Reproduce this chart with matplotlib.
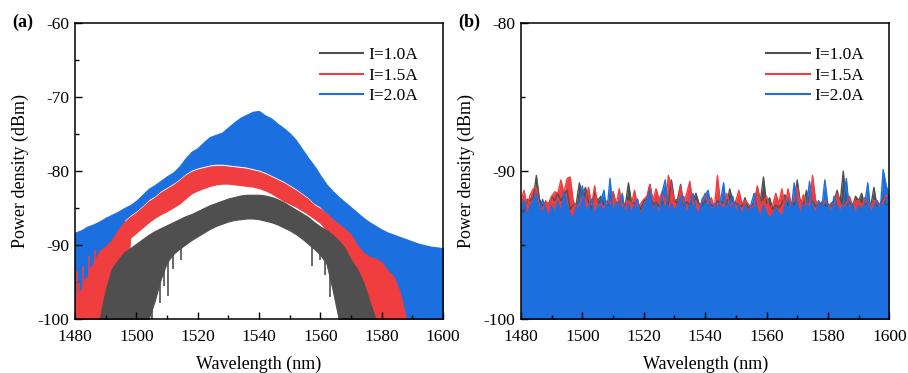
import numpy as np
import matplotlib
matplotlib.use("Agg")
import matplotlib.pyplot as plt
from matplotlib.ticker import MultipleLocator
from matplotlib.lines import Line2D

plt.rcParams['font.family'] = ['Liberation Serif', 'DejaVu Serif']
plt.rcParams['axes.unicode_minus'] = False

# ---------------- data: panel (a) (envelopes of the noisy spectra, 2 nm step) -------------
wl_a = np.arange(1480, 1601, 2)

blue_top_a = [-88.3, -88.0, -87.5, -87.2, -86.8, -86.3, -85.9, -85.5, -85.0, -84.6,
              -84.0, -83.2, -82.4, -81.9, -81.3, -80.7, -80.2, -79.4, -78.3, -77.4,
              -76.9, -76.1, -75.4, -75.1, -74.8, -74.1, -73.4, -72.8, -72.4, -72.0,
              -71.9, -72.5, -72.9, -73.6, -74.2, -74.9, -75.8, -77.0, -78.2, -79.3,
              -80.6, -81.8, -82.7, -83.5, -84.2, -84.9, -85.6, -86.3, -86.9, -87.4,
              -87.9, -88.3, -88.6, -88.9, -89.2, -89.5, -89.8, -90.0, -90.2, -90.3,
              -90.4]

red_top_a = [-97.0, -96.0, -94.2, -92.4, -90.8, -90.2, -89.3, -88.0, -86.9, -86.2,
             -85.6, -84.9, -84.1, -83.6, -82.9, -82.4, -81.9, -81.3, -80.6, -80.1,
             -79.8, -79.6, -79.4, -79.3, -79.3, -79.4, -79.5, -79.6, -79.7, -79.9,
             -80.1, -80.4, -80.8, -81.2, -81.6, -82.1, -82.6, -83.2, -83.8, -84.6,
             -85.1, -85.7, -86.5, -87.2, -87.8, -88.6, -90.0, -91.0, -91.6, -91.8,
             -92.3, -93.5, -94.3, -96.5, -100.0, np.nan, np.nan, np.nan, np.nan, np.nan,
             np.nan]

red_bot_a = [-100, -100, -100, -100, -100, -100, -100, -100, -100, -89.0,
             -88.3, -87.6, -86.9, -86.3, -85.8, -85.4, -84.9, -84.4, -83.7, -83.0,
             -82.6, -82.3, -82.0, -81.8, -81.7, -81.7, -81.8, -81.9, -82.0, -82.1,
             -82.3, -82.6, -83.0, -83.5, -84.0, -84.4, -84.8, -85.3, -85.8, -86.4,
             -87.0, -88.0, -88.6, -89.4, -90.4, -92.0, -93.2, -95.0, -97.5, -100,
             -100, -100, -100, -100, -100, np.nan, np.nan, np.nan, np.nan, np.nan,
             np.nan]

# isolated spikes of the 1.5 A trace at the short-wavelength edge
red_spike_wl = [1480.5, 1481.4, 1482.6, 1483.4, 1484.6, 1485.3, 1486.4]
red_spike_val = [-93.5, -95.0, -92.8, -94.5, -91.5, -93.0, -90.6]

black_top_a = [np.nan, np.nan, np.nan, np.nan, -100.0, -96.0, -93.2, -92.0, -91.0, -90.4,
               -89.8, -89.2, -88.6, -88.1, -87.7, -87.3, -86.9, -86.5, -86.1, -85.8,
               -85.4, -85.0, -84.6, -84.3, -84.0, -83.7, -83.5, -83.3, -83.2, -83.2,
               -83.2, -83.3, -83.5, -83.8, -84.2, -84.7, -85.2, -85.7, -86.2, -86.9,
               -87.5, -88.0, -88.6, -89.4, -90.4, -92.0, -93.2, -95.0, -97.5, -100.0,
               np.nan, np.nan, np.nan, np.nan, np.nan, np.nan, np.nan, np.nan, np.nan, np.nan,
               np.nan]

black_bot_a = [np.nan, np.nan, np.nan, np.nan, -100, -100, -100, -100, -100, -100,
               -100, -100, -100, -97.5, -94.5, -92.3, -91.2, -90.5, -89.9, -89.3,
               -88.8, -88.3, -87.8, -87.4, -87.1, -86.8, -86.6, -86.5, -86.4, -86.4,
               -86.5, -86.7, -86.9, -87.2, -87.6, -88.0, -88.5, -89.1, -89.8, -90.5,
               -91.3, -92.5, -96.0, -100, -100, -100, -100, -100, -100, -100,
               np.nan, np.nan, np.nan, np.nan, np.nan, np.nan, np.nan, np.nan, np.nan, np.nan,
               np.nan]

# deep single-point dips of the 1.0 A trace below its band
black_dip_wl = [1503.8, 1505.2, 1506.4, 1507.6, 1509.0, 1510.3, 1512.1, 1514.6,
                1557.3, 1559.8, 1561.6, 1563.0]
black_dip_val = [-97.0, -100.0, -96.5, -97.8, -95.5, -96.8, -93.2, -92.0,
                 -92.8, -92.0, -94.0, -97.0]

# ---------------- data: panel (b) (peak values per 1 nm) ----------------
wl_b = np.arange(1480, 1601, 1)

blue_b = [-92.4, -92.0, -93.0, -92.3, -92.0, -91.5, -92.8, -91.9, -92.5, -93.1,
          -92.3, -92.8, -92.0, -92.9, -91.4, -92.3, -92.9, -93.2, -92.4, -92.0,
          -91.0, -92.6, -92.4, -91.9, -93.0, -92.3, -92.1, -91.3, -92.7, -90.5,
          -92.9, -92.1, -92.5, -91.5, -93.0, -92.2, -92.8, -92.3, -91.9, -93.1,
          -92.3, -92.0, -91.3, -92.8, -92.2, -93.0, -91.4, -90.6, -92.9, -92.2,
          -92.7, -92.3, -91.8, -91.7, -93.0, -92.2, -91.5, -92.6, -92.9, -91.9,
          -91.6, -91.3, -92.8, -92.2, -92.5, -92.0, -90.8, -92.7, -92.1, -91.7,
          -92.9, -92.2, -93.0, -92.3, -92.8, -92.2, -91.5, -92.6, -93.1, -92.3,
          -92.8, -93.2, -92.9, -92.5, -92.8, -93.1, -92.3, -91.9, -92.7, -90.8,
          -92.2, -92.9, -92.2, -92.6, -90.7, -92.3, -92.9, -92.0, -92.5, -90.6,
          -92.3, -92.9, -91.7, -92.3, -92.8, -92.2, -90.5, -92.7, -92.2, -92.9,
          -92.3, -92.6, -92.2, -90.8, -92.9, -92.4, -92.0, -92.8, -89.9, -91.0,
          -91.6]

red_b = [-92.0, -91.3, -92.5, -91.6, -91.2, -91.1, -92.4, -92.6, -92.0, -92.3,
         -91.7, -91.4, -91.5, -90.6, -91.5, -90.5, -90.4, -92.0, -92.5, -92.3,
         -91.8, -92.0, -91.1, -92.3, -91.0, -92.4, -92.2, -92.5, -92.0, -92.2,
         -91.4, -92.3, -91.2, -92.4, -92.2, -92.0, -92.2, -91.3, -92.4, -92.2,
         -91.9, -91.7, -90.9, -92.0, -91.2, -91.9, -91.4, -92.3, -90.3, -91.0,
         -92.1, -92.4, -91.0, -92.2, -91.5, -90.7, -92.2, -92.0, -92.4, -92.1,
         -91.5, -92.2, -91.8, -92.5, -90.3, -92.2, -92.4, -91.5, -92.3, -92.2,
         -92.0, -91.3, -92.2, -92.0, -92.2, -92.5, -92.3, -91.0, -92.2, -92.0,
         -91.7, -92.5, -92.3, -91.5, -92.2, -91.2, -92.4, -91.2, -92.2, -92.0,
         -91.1, -92.3, -91.6, -92.2, -92.3, -90.3, -92.0, -92.2, -92.4, -92.0,
         -92.2, -92.5, -92.3, -91.5, -92.2, -92.4, -92.2, -91.7, -92.3, -92.0,
         -92.0, -92.3, -91.8, -92.2, -92.4, -92.0, -92.0, -92.3, -92.1, -91.6,
         -91.8]

black_b = [-92.6, -92.8, -91.9, -92.0, -91.8, -90.3, -91.9, -92.3, -92.1, -92.2,
           -91.7, -92.0, -91.5, -92.0, -91.6, -91.3, -92.6, -92.3, -92.2, -90.8,
           -91.6, -91.1, -92.1, -92.5, -91.4, -92.0, -91.7, -92.3, -92.4, -92.0,
           -91.4, -92.2, -92.1, -92.0, -92.3, -90.8, -92.1, -92.2, -92.1, -92.6,
           -92.0, -91.9, -90.9, -92.3, -92.1, -92.4, -92.2, -92.0, -92.3, -90.6,
           -92.0, -91.9, -90.9, -92.3, -92.1, -92.3, -92.0, -91.5, -92.2, -92.3,
           -92.0, -92.1, -92.3, -92.4, -92.0, -92.2, -92.1, -92.3, -91.2, -92.0,
           -92.2, -92.3, -92.4, -91.8, -92.5, -92.4, -92.2, -91.1, -92.0, -90.4,
           -92.2, -91.8, -92.6, -92.3, -92.5, -92.2, -91.6, -92.3, -92.1, -92.3,
           -90.6, -92.1, -92.3, -91.3, -92.1, -92.0, -92.4, -92.3, -92.1, -92.3,
           -92.4, -92.2, -92.0, -91.3, -92.1, -90.0, -92.3, -92.1, -92.4, -91.7,
           -92.0, -91.5, -92.3, -92.1, -92.3, -91.1, -92.4, -92.2, -91.8, -92.3,
           -92.2]

labels = ['I=1.0A', 'I=1.5A', 'I=2.0A']
c_black = '#4f4f4f'
c_red = '#f03d3f'
c_blue = '#1c6fde'

fig = plt.figure(figsize=(9.08, 3.73), dpi=100)
axa = fig.add_axes([0.0826, 0.144, 0.4053, 0.795])
axb = fig.add_axes([0.5738, 0.144, 0.4056, 0.795])

# panel (a)
bt = np.array(blue_top_a)
rt = np.array(red_top_a)
blue_bot = np.where((wl_a >= 1496) & (wl_a <= 1560), rt + 0.3,
                    np.where((wl_a >= 1562) & (wl_a <= 1588), rt, -100.0))
axa.fill_between(wl_a, blue_bot, bt, color=c_blue, lw=0.8, edgecolor=c_blue)
axa.fill_between(wl_a, red_bot_a, red_top_a, color=c_red, lw=0.8, edgecolor=c_red)
axa.vlines(red_spike_wl, -100, red_spike_val, color=c_red, lw=1.2)
axa.fill_between(wl_a, black_bot_a, black_top_a, color=c_black, lw=0.8, edgecolor=c_black)
valid = ~np.isnan(np.array(black_bot_a, dtype=float))
dip_base = np.interp(black_dip_wl, wl_a[valid], np.array(black_bot_a, dtype=float)[valid]) + 0.5
axa.vlines(black_dip_wl, black_dip_val, dip_base, color=c_black, lw=1.2)

# panel (b)
axb.plot(wl_b, black_b, color=c_black, lw=1.0)
axb.fill_between(wl_b, -100, black_b, color=c_black, lw=0)
axb.plot(wl_b, red_b, color=c_red, lw=1.0)
axb.fill_between(wl_b, -100, red_b, color=c_red, lw=0)
axb.plot(wl_b, blue_b, color=c_blue, lw=1.0)
axb.fill_between(wl_b, -100, blue_b, color=c_blue, lw=0)

handles = [Line2D([], [], color=c, lw=1.5) for c in (c_black, c_red, c_blue)]

for ax, ylim, tag in ((axa, (-100, -60), '(a)'), (axb, (-100, -80), '(b)')):
    ax.set_xlim(1480, 1600)
    ax.set_ylim(*ylim)
    ax.xaxis.set_major_locator(MultipleLocator(20))
    ax.xaxis.set_minor_locator(MultipleLocator(10))
    ax.yaxis.set_major_locator(MultipleLocator(10))
    ax.yaxis.set_minor_locator(MultipleLocator(5))
    ax.tick_params(which='both', direction='in', top=False, right=False, labelsize=12.5, width=1.0)
    ax.tick_params(which='major', length=5)
    ax.tick_params(which='minor', length=3)
    ax.tick_params(axis='x', pad=7)
    ax.tick_params(axis='y', pad=4)
    for s in ax.spines.values():
        s.set_linewidth(1.1)
    ax.set_xlabel('Wavelength (nm)', fontsize=13, labelpad=8)
    ax.set_ylabel('Power density (dBm)', fontsize=13, labelpad=6)
    ax.legend(handles, labels, loc='upper right', frameon=False, fontsize=12.5,
              handlelength=2.5, handletextpad=0.3, labelspacing=0.25,
              bbox_to_anchor=(0.975, 0.97))
    ax.text(-0.17, 1.0, tag, transform=ax.transAxes, fontsize=13, fontweight='bold',
            ha='left', va='center')

fig.savefig('out.png', dpi=100)
